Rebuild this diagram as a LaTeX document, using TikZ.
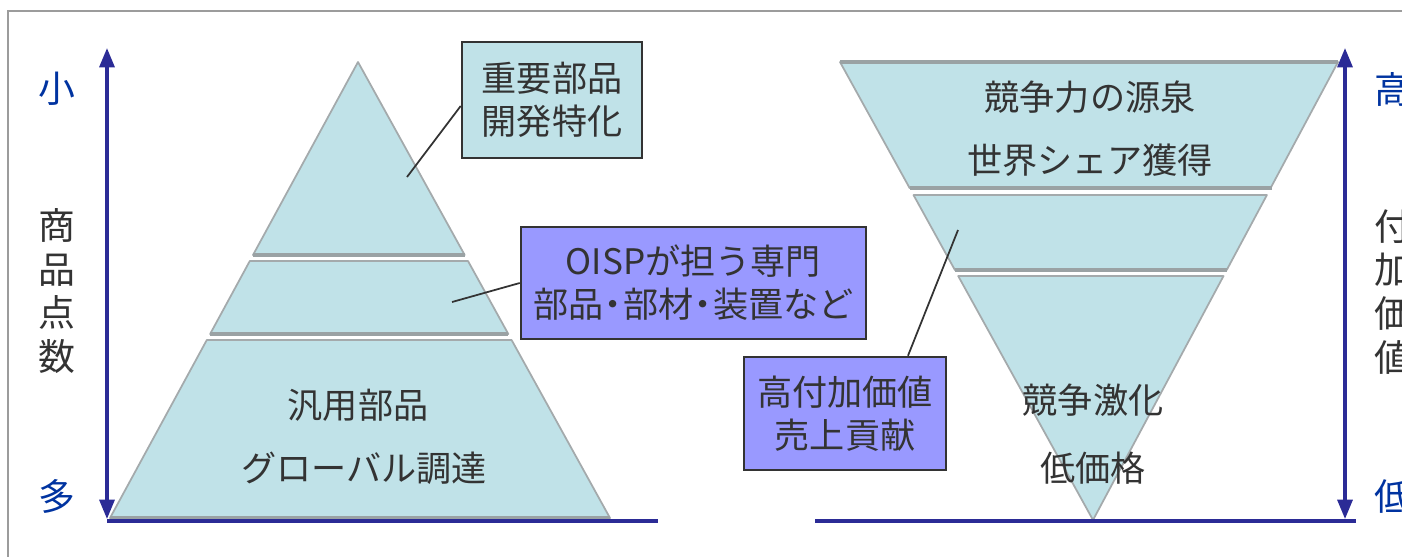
\documentclass[tikz,border=0pt]{standalone}
\usepackage{fontspec}
\newfontfamily\jp{Noto Sans CJK JP}
\usetikzlibrary{arrows.meta}
\definecolor{fillc}{HTML}{C0E2E8}
\definecolor{edgec}{HTML}{A4AAAC}
\definecolor{edgeb}{HTML}{9AA2A4}
\definecolor{axisc}{HTML}{2B2B96}
\definecolor{bluetxt}{HTML}{0033A0}
\definecolor{txt}{HTML}{333333}
\definecolor{boxblue}{HTML}{9999FF}
\definecolor{framec}{HTML}{9C9C9C}
\newcommand{\nd}{\kern-0.22em・\kern-0.22em}
\begin{document}
\begin{tikzpicture}[x=0.02cm,y=-0.02cm,
  layer/.style={fill=fillc,draw=edgec,line width=1pt,line join=round},
  base/.style={draw=edgeb,line width=2.2pt},
  axis/.style={draw=axisc,line width=1.9pt},
  axtip/.style={{Triangle[width=8.5pt,length=11pt]}-{Triangle[width=8.5pt,length=11pt]}},
  framel/.style={draw=framec,line width=1.1pt},
  lbl/.style={font=\jp\fontsize{20pt}{25pt}\selectfont,text=txt,inner sep=0pt},
  vlbl/.style={font=\jp\fontsize{21pt}{25pt}\selectfont,text=txt,align=center,inner sep=0pt},
  blbl/.style={font=\jp\fontsize{21pt}{25pt}\selectfont,text=bluetxt,inner sep=0pt},
  callout/.style={draw=txt,line width=1.5pt,font=\jp\fontsize{20pt}{24.5pt}\selectfont,text=txt,align=center,inner sep=0pt},
  leader/.style={draw=txt,line width=1pt}]
\useasboundingbox (0,0) rectangle (1402,556);
% frame
\coordinate (FB) at (8,600);
\coordinate (FTL) at (8,11);
\coordinate (FTR) at (1450,11);
\draw[framel] (FB) -- (FTL) -- (FTR);

% left pyramid
\path[layer] (358,62) -- (464.7,255) -- (253,255) -- cycle;
\draw[base] (253,255) -- (464.7,255);
\path[layer] (249.8,261) -- (468,261) -- (508.3,334) -- (210.1,334) -- cycle;
\draw[base] (210.1,334) -- (508.3,334);
\path[layer] (206.8,340) -- (511.6,340) -- (610,518) -- (110,518) -- cycle;
\draw[base] (110,518) -- (610,518);

% right funnel
\path[layer] (840,62) -- (1338,62) -- (1270.6,188) -- (909.6,188) -- cycle;
\draw[base] (840,62) -- (1338,62);
\draw[base] (909.6,188) -- (1272,188);
\path[layer] (913.5,195) -- (1266.9,195) -- (1226.7,270) -- (954.9,270) -- cycle;
\draw[base] (954.9,270) -- (1226.7,270);
\path[layer] (958.2,276) -- (1223.5,276) -- (1093,520) -- cycle;

% axes
\coordinate (LT) at (107,48);
\coordinate (LB) at (107,519);
\coordinate (LC) at (107,521);
\coordinate (LR) at (658,521);
\draw[axis,axtip] (LT) -- (LB);
\draw[axis] (LC) -- (LR);
\coordinate (RT) at (1345,48);
\coordinate (RB) at (1345,519);
\coordinate (RL) at (815,521);
\coordinate (RR) at (1356,521);
\draw[axis,axtip] (RT) -- (RB);
\draw[axis] (RL) -- (RR);

% axis labels
\node[blbl] (small) at (57,89) {小};
\node[blbl] (many) at (57,496) {多};
\node[vlbl] (count) at (57,291) {商\\品\\点\\数};
\node[blbl] (high) at (1393,89) {高};
\node[blbl] (low) at (1393,496) {低};
\node[vlbl] (value) at (1393,292) {付\\加\\価\\値};

% pyramid texts
\node[lbl] (t1) at (358,405) {汎用部品};
\node[lbl] (t2) at (364,468) {グローバル調達};
\node[lbl] (t3) at (1090,97) {競争力の源泉};
\node[lbl] (t4) at (1090,160) {世界シェア獲得};
\node[lbl] (t5) at (1093,400) {競争激化};
\node[lbl] (t6) at (1093,468) {低価格};

% leaders
\coordinate (p1) at (407,177);
\coordinate (p2) at (452,302);
\coordinate (p3) at (958,230);

% callouts
\node[callout,fill=fillc,minimum width=3.6cm,minimum height=2.32cm] (box1) at (552,100) {重要部品\\開発特化};
\node[callout,fill=boxblue,minimum width=6.9cm,minimum height=2.24cm] (box2) at (693.5,283) {OISPが担う専門\\部品\nd 部材\nd 装置など};
\node[callout,fill=boxblue,minimum width=4.04cm,minimum height=2.26cm] (box3) at (845,413.5) {高付加価値\\売上貢献};

\draw[leader] ([yshift=-0.12cm]box1.west) -- (p1);
\draw[leader] (box2.west) -- (p2);
\draw[leader] ([xshift=1.26cm]box3.north) -- (p3);
\end{tikzpicture}
\end{document}
